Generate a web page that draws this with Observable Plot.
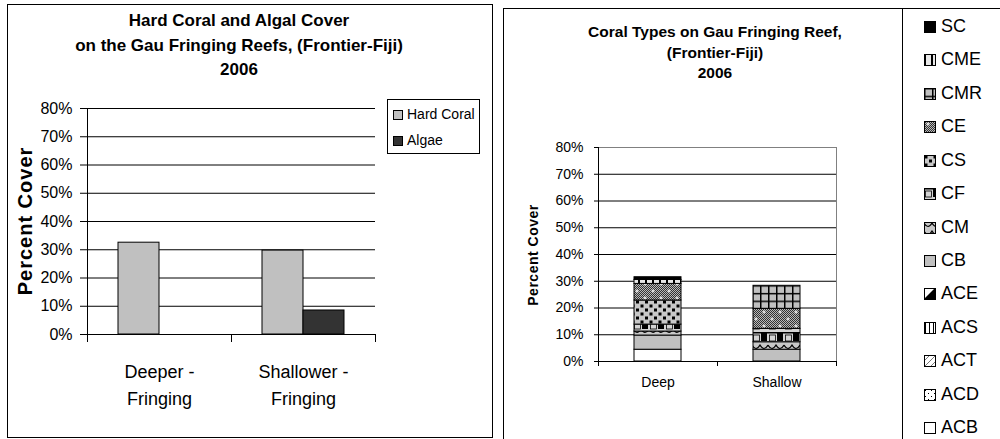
<!DOCTYPE html>
<html>
<head>
<meta charset="utf-8">
<script src="https://cdn.jsdelivr.net/npm/d3@7"></script>
<script src="https://cdn.jsdelivr.net/npm/@observablehq/plot@0.6"></script>
<style>
  html, body { margin: 0; padding: 0; background: #fff; }
  #root { position: relative; width: 1000px; height: 439px; overflow: hidden; background: #fff;
          font-family: "Liberation Sans", Arial, sans-serif; color: #000; }
  .abs { position: absolute; }
  .title { font-weight: bold; text-align: center; white-space: nowrap; }
  .vtitle { font-weight: bold; white-space: nowrap; transform: translate(-50%, -50%) rotate(-90deg); }
</style>
</head>
<body>
<svg width="0" height="0" style="position:absolute">
  <defs>
    <pattern id="pCME" width="7" height="6" patternUnits="userSpaceOnUse">
      <rect width="7" height="6" fill="#e8e8e8"/>
      <rect x="0" width="2" height="6" fill="#000"/>
    </pattern>
    <pattern id="pCMR" width="8" height="7.7" patternUnits="userSpaceOnUse">
      <rect width="8" height="7.7" fill="#c0c0c0"/>
      <path d="M0 0.75H8M0.75 0V7.7" stroke="#000" stroke-width="1.5"/>
    </pattern>
    <pattern id="pDither" width="2" height="2" patternUnits="userSpaceOnUse">
      <rect width="2" height="2" fill="#b8b8b8"/>
      <rect width="1" height="1" fill="#333"/>
      <rect x="1" y="1" width="1" height="1" fill="#333"/>
    </pattern>
    <pattern id="pCE" width="16" height="14" patternUnits="userSpaceOnUse">
      <rect width="16" height="14" fill="url(#pDither)"/>
      <path d="M4 1.5v3M2.5 3h3M12 8.5v3M10.5 10h3" stroke="#fff" stroke-width="1"/>
    </pattern>
    <pattern id="pCS" width="9" height="8" patternUnits="userSpaceOnUse">
      <rect width="9" height="8" fill="#c8c8c8"/>
      <rect x="0.5" y="0.5" width="3" height="3" fill="#000"/>
      <rect x="5" y="4.5" width="3" height="3" fill="#000"/>
    </pattern>
    <pattern id="pCF" width="16" height="12" patternUnits="userSpaceOnUse">
      <rect width="16" height="12" fill="#d4d4d4"/>
      <rect x="0" y="0" width="16" height="1.5" fill="#000"/>
      <rect x="9" y="1" width="6" height="8" fill="#000"/>
      <rect x="1.5" y="3" width="6" height="6" fill="none" stroke="#000" stroke-width="0.8"/>
    </pattern>
    <pattern id="pCM" width="16" height="8" patternUnits="userSpaceOnUse">
      <rect width="16" height="8" fill="#c8c8c8"/>
      <path d="M0 1 Q4 8 8 1 Q12 8 16 1" fill="none" stroke="#000" stroke-width="1.2"/>
    </pattern>
    <pattern id="pACE" width="11" height="11" patternUnits="userSpaceOnUse">
      <rect width="11" height="11" fill="#fff"/>
      <path d="M0 11L11 0V11Z" fill="#000"/>
    </pattern>
    <pattern id="pACS" width="4" height="4" patternUnits="userSpaceOnUse">
      <rect width="4" height="4" fill="#fff"/>
      <rect x="1" width="1" height="4" fill="#000"/>
    </pattern>
    <pattern id="pACT" width="6" height="6" patternUnits="userSpaceOnUse">
      <rect width="6" height="6" fill="#fff"/>
      <path d="M0 6L6 0" stroke="#777" stroke-width="1"/>
    </pattern>
    <pattern id="pACD" width="6" height="6" patternUnits="userSpaceOnUse">
      <rect width="6" height="6" fill="#fff"/>
      <rect x="1" y="1" width="1" height="1" fill="#000"/>
      <rect x="4" y="4" width="1" height="1" fill="#000"/>
    </pattern>
  </defs>
</svg>
<div id="root"></div>
<script>
// ---------- Data: left chart ----------
const sitesL = ["Deeper -\nFringing", "Shallower -\nFringing"];
const seriesL = ["Hard Coral", "Algae"];
const hardCoral = [32.5, 29.7];
const algae = [0, 8.5];
const yTicks = [0, 10, 20, 30, 40, 50, 60, 70, 80];

// ---------- Data: right chart ----------
const sitesR = ["Deep", "Shallow"];
const coralTypes = ["ACB", "ACD", "ACT", "ACS", "ACE", "CB", "CM", "CF", "CS", "CE", "CMR", "CME", "SC"];
const deepCover =    [4.4, 0, 0, 0, 0, 5.3, 1.5, 2.6, 9.0, 6.2, 0, 1.5, 1.0];
const shallowCover = [0,   0, 0, 0, 0, 4.4, 2.8, 5.0, 0,   7.5, 8.6, 0, 0];

// fills (style)
const typeFill = {
  SC: "#000", CME: "url(#pCME)", CMR: "url(#pCMR)", CE: "url(#pCE)", CS: "url(#pCS)",
  CF: "url(#pCF)", CM: "url(#pCM)", CB: "#c0c0c0", ACE: "url(#pACE)", ACS: "url(#pACS)",
  ACT: "url(#pACT)", ACD: "url(#pACD)", ACB: "#fff"
};
const seriesFill = ["#c0c0c0", "#333333"];

const root = document.getElementById("root");
function add(html) { root.insertAdjacentHTML("beforeend", html); }

// ---------- Left panel ----------
add(`<div class="abs" style="left:7px;top:4px;width:484px;height:432px;border:1px solid #000;"></div>`);
add(`<div class="abs title" style="left:0;top:9px;width:478px;font-size:17px;line-height:24.5px;">Hard Coral and Algal Cover<br>on the Gau Fringing Reefs, (Frontier-Fiji)<br>2006</div>`);

const dataL = sitesL.flatMap((s, i) => [
  {site: s, series: seriesL[0], value: hardCoral[i]},
  {site: s, series: seriesL[1], value: algae[i]}
]).filter(d => d.value > 0);

const innerHL = 437 - 108 - 103;
const plotL = Plot.plot({
  width: 492, height: 437,
  marginLeft: 87, marginRight: 117, marginTop: 108, marginBottom: 103,
  style: {fontFamily: "'Liberation Sans', Arial, sans-serif", color: "#000", background: "transparent", overflow: "visible"},
  fx: {domain: sitesL, padding: 0, label: null},
  x: {domain: seriesL, paddingInner: 0, paddingOuter: 0.756, axis: null},
  y: {domain: [0, 80], label: null},
  color: {domain: seriesL, range: seriesFill},
  marks: [
    Plot.gridY({ticks: yTicks, stroke: "#000", strokeOpacity: 1, strokeWidth: 1}),
    Plot.axisY({ticks: yTicks, tickSize: 7, tickPadding: 8, fontSize: 16, tickFormat: d => d + "%", label: null}),
    Plot.frame({anchor: "left", facetAnchor: "left", stroke: "#000"}),
    Plot.frame({anchor: "left", insetTop: innerHL, insetBottom: -7, stroke: "#000"}),
    Plot.frame({anchor: "right", facetAnchor: "right", insetTop: innerHL, insetBottom: -7, stroke: "#000"}),
    Plot.barY(dataL, {fx: "site", x: "series", y: "value", fill: "series", stroke: "#000", strokeWidth: 1}),
    Plot.axisFx({anchor: "bottom", tickSize: 0, tickPadding: 24, fontSize: 18, lineHeight: 1.5, label: null})
  ]
});
plotL.style.position = "absolute";
plotL.style.left = "0px";
plotL.style.top = "0px";
root.appendChild(plotL);

add(`<div class="abs vtitle" style="left:25px;top:221px;font-size:20px;letter-spacing:1px;">Percent Cover</div>`);

// left legend
let legL = `<div class="abs" style="left:387px;top:99px;width:91px;height:53px;border:1px solid #000;background:#fff;">`;
seriesL.forEach((s, i) => {
  legL += `<div class="abs" style="left:5px;top:${6 + i * 26}px;height:16px;line-height:16px;font-size:14px;white-space:nowrap;">
    <span style="display:inline-block;width:8px;height:8px;border:1px solid #000;background:${seriesFill[i]};vertical-align:-1px;margin-right:4px;"></span>${s}</div>`;
});
legL += `</div>`;
add(legL);

// ---------- Right panel ----------
add(`<div class="abs" style="left:503px;top:8px;width:600px;height:500px;border-left:1px solid #000;border-top:1px solid #000;"></div>`);
add(`<div class="abs" style="left:902px;top:8px;width:1px;height:440px;background:#000;"></div>`);
add(`<div class="abs title" style="left:515px;top:22px;width:400px;font-size:15.5px;line-height:20.5px;">Coral Types on Gau Fringing Reef,<br>(Frontier-Fiji)<br>2006</div>`);

const dataR = sitesR.flatMap((s, i) => coralTypes.map((t, j) => ({
  site: s, type: t, value: (i === 0 ? deepCover : shallowCover)[j]
}))).filter(d => d.value > 0);

const innerHR = 431 - 139 - 78;
const plotR = Plot.plot({
  width: 398, height: 431,
  marginLeft: 93, marginRight: 66, marginTop: 139, marginBottom: 78,
  style: {fontFamily: "'Liberation Sans', Arial, sans-serif", color: "#000", background: "transparent", overflow: "visible"},
  fx: {domain: sitesR, padding: 0, label: null},
  y: {domain: [0, 80], label: null},
  color: {domain: coralTypes, range: coralTypes.map(t => typeFill[t])},
  marks: [
    Plot.gridY({ticks: yTicks.filter(t => t < 80), stroke: "#000", strokeOpacity: 1, strokeWidth: 1}),
    Plot.frame({anchor: "top", stroke: "#808080"}),
    Plot.frame({anchor: "right", facetAnchor: "right", stroke: "#808080"}),
    Plot.axisY({ticks: yTicks, tickSize: 4, tickPadding: 11, fontSize: 14, tickFormat: d => d + "%", label: null}),
    Plot.frame({anchor: "left", facetAnchor: "left", stroke: "#000"}),
    Plot.frame({anchor: "left", insetTop: innerHR, insetBottom: -4, stroke: "#000"}),
    Plot.frame({anchor: "right", facetAnchor: "right", insetTop: innerHR, insetBottom: -4, stroke: "#000"}),
    Plot.barY(dataR, Plot.stackY({fx: "site", y: "value", fill: "type", stroke: "#000", strokeWidth: 1, insetLeft: 36, insetRight: 36})),
    Plot.axisFx({anchor: "bottom", tickSize: 0, tickPadding: 16, fontSize: 14, label: null})
  ]
});
plotR.style.position = "absolute";
plotR.style.left = "504px";
plotR.style.top = "8px";
root.appendChild(plotR);

add(`<div class="abs vtitle" style="left:533px;top:255px;font-size:14px;letter-spacing:0.5px;">Percent Cover</div>`);

// right legend (top to bottom: reverse stacking order)
const legendOrder = coralTypes.slice().reverse();
let legR = "";
legendOrder.forEach((t, i) => {
  const cy = 26 + i * 33.42;
  legR += `<div class="abs" style="left:924px;top:${(cy - 11).toFixed(1)}px;height:22px;line-height:22px;font-size:18px;white-space:nowrap;">
    <svg width="12" height="12" style="vertical-align:-1px;margin-right:5px;"><rect x="0.5" y="0.5" width="11" height="11" fill="${typeFill[t]}" stroke="#000" stroke-width="1"/></svg>${t}</div>`;
});
add(legR);
</script>
</body>
</html>
